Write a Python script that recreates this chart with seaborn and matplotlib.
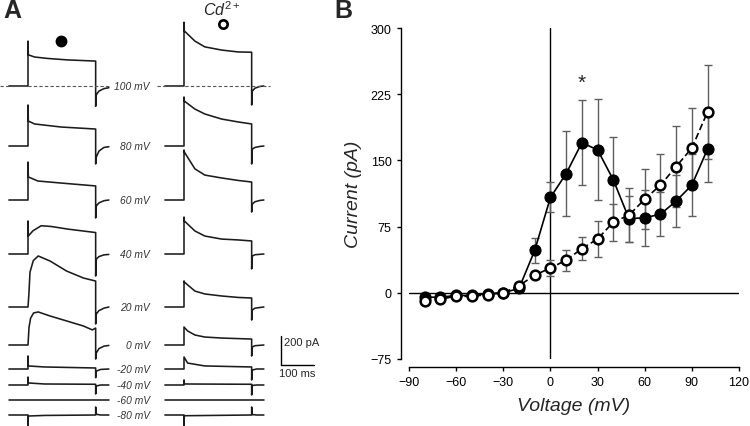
import matplotlib
matplotlib.use('Agg')
import matplotlib.pyplot as plt
import seaborn as sns

# I-V data (panel B)
volt = [-80, -70, -60, -50, -40, -30, -20, -10, 0, 10, 20, 30, 40, 50, 60, 70, 80, 90, 100]
ctrl_mean = [-5, -5, -3, -3, -1, 0, 5, 48, 108, 135, 170, 162, 128, 84, 85, 89, 104, 122, 163]
ctrl_sem = [3, 3, 2, 2, 2, 2, 3, 14, 17, 48, 48, 57, 48, 26, 32, 25, 30, 35, 37]
cd_mean = [-9, -7, -4, -4, -2, 0, 8, 20, 28, 37, 50, 61, 80, 88, 106, 122, 143, 164, 205]
cd_sem = [3, 3, 2, 2, 2, 2, 3, 4, 9, 12, 13, 20, 21, 31, 34, 35, 46, 45, 53]
x_ticks = [-90, -60, -30, 0, 30, 60, 90, 120]
y_ticks = [-75, 0, 75, 150, 225, 300]

# example traces (panel A): (time ms from step onset, current pA)
step_mv = [100, 80, 60, 40, 20, 0, -20, -40, -60, -80]
ctrl_traces = {
    100: [(-58, 0), (0, 0), (0, 310), (1, 215), (20, 200), (60, 190), (120, 180), (205, 172),
          (205, -140), (207, -60), (215, -35), (230, -18), (245, -12)],
    80: [(-58, 0), (0, 0), (0, 283), (1, 172), (20, 152), (100, 131), (205, 117),
         (205, -124), (207, -76), (215, -35), (230, -10), (245, -5)],
    60: [(-58, 0), (0, 0), (0, 262), (1, 159), (30, 131), (100, 117), (205, 97),
         (205, -124), (207, -41), (215, -20), (230, -5), (245, 0)],
    40: [(-58, 0), (0, 0), (0, 228), (1, 124), (15, 160), (40, 195), (70, 190), (120, 172), (205, 148),
         (205, -152), (207, -35), (215, -18), (230, -6), (245, -3)],
    20: [(-58, 0), (0, 0), (3, 100), (6, 240), (16, 320), (31, 352), (67, 317), (117, 248), (168, 200),
         (205, 179), (205, -117), (207, -48), (215, -25), (230, -8), (245, 0)],
    0: [(-58, 0), (0, 0), (3, 120), (8, 186), (17, 221), (31, 228), (67, 200), (117, 166), (168, 131),
        (195, 104), (205, 117), (205, -97), (207, -55), (215, -25), (230, -8), (245, -3)],
    -20: [(-58, 0), (0, 0), (0, 90), (1, 21), (50, 14), (205, 7), (205, -60), (207, -15), (220, -3), (245, 0)],
    -40: [(-58, 0), (0, 0), (0, 55), (1, 14), (50, 7), (205, 5), (205, -62), (207, -7), (220, 0), (245, 0)],
    -60: [(-58, 0), (245, 0)],
    -80: [(-58, 0), (0, 0), (0, -76), (1, -7), (50, -3), (205, 0), (205, 55), (207, 5), (220, 0), (245, 0)],
}
cd_traces = {
    100: [(-58, 0), (0, 0), (0, 440), (1, 380), (33, 310), (63, 270), (114, 248), (164, 235), (205, 233),
          (205, -131), (207, -35), (215, -15), (230, -3), (242, 0)],
    80: [(-58, 0), (0, 0), (0, 338), (1, 310), (33, 255), (63, 221), (114, 186), (164, 166), (205, 152),
         (205, -124), (207, -21), (215, -10), (230, -3), (242, 0)],
    60: [(-58, 0), (0, 0), (0, 345), (1, 331), (33, 215), (63, 172), (114, 152), (164, 135), (205, 124),
         (205, -83), (207, -28), (215, -12), (230, -3), (242, 0)],
    40: [(-58, 0), (0, 0), (0, 255), (1, 228), (33, 159), (63, 124), (114, 103), (164, 97), (205, 90),
         (205, -103), (207, -14), (215, -5), (242, 0)],
    20: [(-58, 0), (0, 0), (0, 180), (1, 172), (33, 110), (63, 90), (114, 76), (164, 66), (205, 62),
         (205, -90), (207, -21), (215, -8), (242, 0)],
    0: [(-58, 0), (0, 0), (0, 124), (11, 97), (33, 69), (63, 55), (114, 48), (205, 41),
        (205, -76), (207, -14), (215, -5), (242, 0)],
    -20: [(-58, 0), (0, 0), (0, 83), (11, 41), (63, 21), (205, 14), (205, -76), (207, -7), (220, 0), (242, 0)],
    -40: [(-58, 0), (0, 0), (0, 35), (1, 7), (205, 5), (205, -69), (207, -3), (220, 0), (242, 0)],
    -60: [(-58, 0), (242, 0)],
    -80: [(-58, 0), (0, 0), (0, -76), (1, -5), (205, 0), (205, 55), (207, 3), (220, 0), (242, 0)],
}

sns.set_style('white')
plt.rcParams['font.family'] = ['Liberation Sans', 'DejaVu Sans']
plt.rcParams['mathtext.fontset'] = 'custom'
plt.rcParams['mathtext.it'] = 'Liberation Sans:italic'
plt.rcParams['mathtext.rm'] = 'Liberation Sans'

MS_PX = 3.03   # ms per pixel in panel A
PA_PX = 6.9    # pA per pixel in panel A

fig = plt.figure(figsize=(7.5, 4.27), dpi=100)

# ---- panel A
ax_a = fig.add_axes([0, 0, 330 / 750, 1])
ax_a.set_xlim(0, 330 * MS_PX)
ax_a.set_ylim(-427 * PA_PX, 0)
ax_a.axis('off')

base_px = [87, 147, 201, 255, 308, 346, 370, 386, 401, 416]
for mv, by in zip(step_mv, base_px):
    for traces, x0 in ((ctrl_traces, 28), (cd_traces, 184)):
        pts = traces[mv]
        tt = [p[0] + x0 * MS_PX for p in pts]
        yy = [p[1] - by * PA_PX for p in pts]
        ax_a.plot(tt, yy, color='#1c1c1c', lw=1.15)
    ax_a.text(150 * MS_PX, -by * PA_PX, f'{mv} mV', ha='right', va='center',
              fontsize=7.4, style='italic', color='#333333')

for x1, x2 in ((0, 109), (157, 270)):
    ax_a.plot([x1 * MS_PX, x2 * MS_PX], [-87 * PA_PX] * 2, ls=(0, (3, 2)), color='#555555', lw=0.8)

# scale bar
sx, sy = 281 * MS_PX, -366 * PA_PX
ax_a.plot([sx, sx, sx + 100], [sy + 200, sy, sy], color='k', lw=1.0)
ax_a.text(sx + 3 * MS_PX, sy + 200 - 6 * PA_PX, '200 pA', ha='left', va='center', fontsize=8)
ax_a.text(sx + 50, sy - 8 * PA_PX, '100 ms', ha='center', va='center', fontsize=8)

ax_a.plot(61 * MS_PX, -42 * PA_PX, 'o', ms=7.5, color='k')
ax_a.plot(223 * MS_PX, -25 * PA_PX, 'o', ms=6, mfc='white', mec='k', mew=1.9)
ax_a.text(222 * MS_PX, -10 * PA_PX, r'$\mathit{Cd}^{2+}$', ha='center', va='center', fontsize=11.5)

fig.text(3 / 750, 1 - 11 / 427, 'A', fontsize=18, fontweight='heavy', va='center', ha='left')
fig.text(334 / 750, 1 - 11 / 427, 'B', fontsize=18, fontweight='heavy', va='center', ha='left')

# ---- panel B
ax_b = fig.add_axes([409 / 750, 1 - 360 / 427, 330 / 750, 331 / 427])
ax_b.axvline(0, color='k', lw=1.0, zorder=1)
ax_b.axhline(0, color='k', lw=1.0, zorder=1)
ax_b.errorbar(volt, ctrl_mean, yerr=ctrl_sem, fmt='none', ecolor='#5f5f5f',
              elinewidth=1.0, capsize=3, capthick=1.0, zorder=2)
ax_b.errorbar(volt, cd_mean, yerr=cd_sem, fmt='none', ecolor='#5f5f5f',
              elinewidth=1.0, capsize=3, capthick=1.0, zorder=2)
sns.lineplot(x=volt, y=ctrl_mean, ax=ax_b, color='k', lw=1.2, marker='o', markersize=8,
             markerfacecolor='k', markeredgecolor='k', zorder=3)
sns.lineplot(x=volt, y=cd_mean, ax=ax_b, color='k', lw=1.2, linestyle=(0, (4, 2)), marker='o',
             markersize=7, markerfacecolor='white', markeredgecolor='k', markeredgewidth=1.8, zorder=4)
ax_b.text(20, 238, '*', ha='center', va='center', fontsize=15)

ax_b.set_xlim(-90, 120)
ax_b.set_ylim(-75, 300)
ax_b.set_xticks(x_ticks)
ax_b.set_yticks(y_ticks)
ax_b.tick_params(bottom=True, left=True, direction='out', length=3, width=1, labelsize=9,
                 colors='k')
sns.despine(ax=ax_b, offset=6)
for s in ('left', 'bottom'):
    ax_b.spines[s].set_color('k')
    ax_b.spines[s].set_linewidth(1.0)
ax_b.set_xlabel('Voltage (mV)', fontsize=14, style='italic', labelpad=6)
ax_b.set_ylabel('Current (pA)', fontsize=14, style='italic', labelpad=6)

fig.savefig('out.png', dpi=100)
